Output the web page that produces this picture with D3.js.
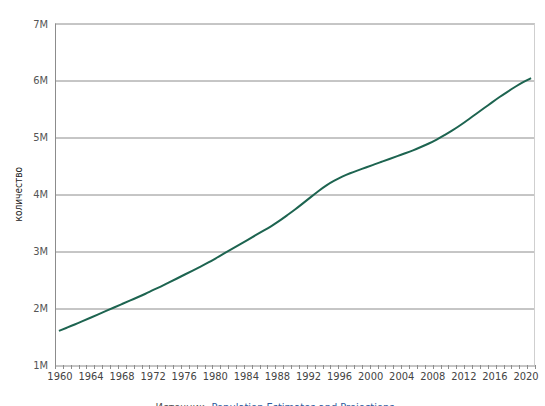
<!DOCTYPE html>
<html>
<head>
<meta charset="utf-8">
<script src="https://cdn.jsdelivr.net/npm/d3@7"></script>
<style>
  body { margin: 0; background: #fff; }
  svg { display: block; font-family: Tahoma, "DejaVu Sans Condensed", "DejaVu Sans", sans-serif; }
</style>
</head>
<body>
<svg id="chart" width="545" height="406"></svg>
<script>
// population by year (millions)
const years = d3.range(1960, 2021);
const population = [
  1.60, 1.655, 1.71, 1.77, 1.83, 1.89, 1.95, 2.01, 2.07, 2.13,
  2.19, 2.25, 2.32, 2.38, 2.45, 2.52, 2.59, 2.66, 2.73, 2.80,
  2.88, 2.96, 3.04, 3.12, 3.20, 3.28, 3.36, 3.44, 3.53, 3.63,
  3.73, 3.84, 3.95, 4.06, 4.16, 4.24, 4.31, 4.37, 4.42, 4.47,
  4.52, 4.57, 4.62, 4.67, 4.72, 4.77, 4.83, 4.89, 4.96, 5.04,
  5.12, 5.21, 5.31, 5.41, 5.51, 5.61, 5.71, 5.80, 5.89, 5.97,
  6.04
].map(v => v * 1e6);
const yTicks = [1e6, 2e6, 3e6, 4e6, 5e6, 6e6, 7e6];
const xLabelYears = d3.range(1960, 2021, 4);

const margin = {top: 23.5, right: 10, bottom: 41, left: 55};
const W = 545, H = 406;
const width = W - margin.left - margin.right;
const height = H - margin.top - margin.bottom;

const svg = d3.select("#chart");
const g = svg.append("g").attr("transform", `translate(${margin.left},${margin.top})`);

// band-like positioning: each year sits in the middle of its slot
const x = d3.scaleBand().domain(years).range([0, width]).padding(0);
const xc = yr => x(yr) + x.bandwidth() / 2;
const y = d3.scaleLinear().domain([1e6, 7e6]).range([height, 0]);
// tick labels are squeezed a little so the last one stays inside the frame
const xl = d3.scaleLinear().domain([1960, 2020]).range([xc(1960) + 1, width - 9]);

// gridlines
g.selectAll(".grid").data(yTicks).join("line")
  .attr("class", "grid")
  .attr("x1", 0).attr("x2", width)
  .attr("y1", d => Math.round(y(d)) + 0.5).attr("y2", d => Math.round(y(d)) + 0.5)
  .attr("stroke", "#8c8c8c").attr("stroke-width", 1);

// right border
g.append("line")
  .attr("x1", width - 0.5).attr("x2", width - 0.5)
  .attr("y1", y(7e6)).attr("y2", height)
  .attr("stroke", "#cfcfcf");

// left axis line
g.append("line")
  .attr("x1", 0.5).attr("x2", 0.5)
  .attr("y1", y(7e6)).attr("y2", height)
  .attr("stroke", "#8c8c8c");

// y labels
g.selectAll(".ylab").data(yTicks).join("text")
  .attr("class", "ylab")
  .attr("x", -7).attr("y", d => y(d) + 4)
  .attr("text-anchor", "end")
  .attr("font-size", "11px").attr("fill", "#555")
  .text(d => d3.format("d")(d / 1e6) + "M");

// x ticks at slot boundaries, one per year
const bounds = years.map(yr => x(yr)).concat([width]);
g.selectAll(".xtick").data(bounds).join("line")
  .attr("class", "xtick")
  .attr("x1", d => Math.round(d) + 0.5).attr("x2", d => Math.round(d) + 0.5)
  .attr("y1", height).attr("y2", height + 4)
  .attr("stroke", "#8c8c8c");

g.selectAll(".xlab").data(xLabelYears).join("text")
  .attr("class", "xlab")
  .attr("x", d => xl(d))
  .attr("y", height + 15)
  .attr("text-anchor", "middle")
  .attr("font-size", "11px").attr("fill", "#444")
  .text(d => d);

// line
const line = d3.line()
  .x((d, i) => xc(years[i]))
  .y(d => y(d))
  .curve(d3.curveBasis);

g.append("path")
  .datum(population)
  .attr("fill", "none")
  .attr("stroke", "#1d6450")
  .attr("stroke-width", 2)
  .attr("d", line);

// y axis title
svg.append("text")
  .attr("transform", `translate(22,${margin.top + height / 2}) rotate(-90)`)
  .attr("text-anchor", "middle")
  .attr("font-size", "10px").attr("fill", "#222")
  .text("количество");

// source
const src = svg.append("text")
  .attr("x", 275).attr("y", 411)
  .attr("text-anchor", "middle")
  .attr("font-size", "11px");
src.append("tspan").attr("fill", "#555").text("Источник: ");
src.append("tspan").attr("fill", "#2f5c9e").text("Population Estimates and Projections");
</script>
</body>
</html>
